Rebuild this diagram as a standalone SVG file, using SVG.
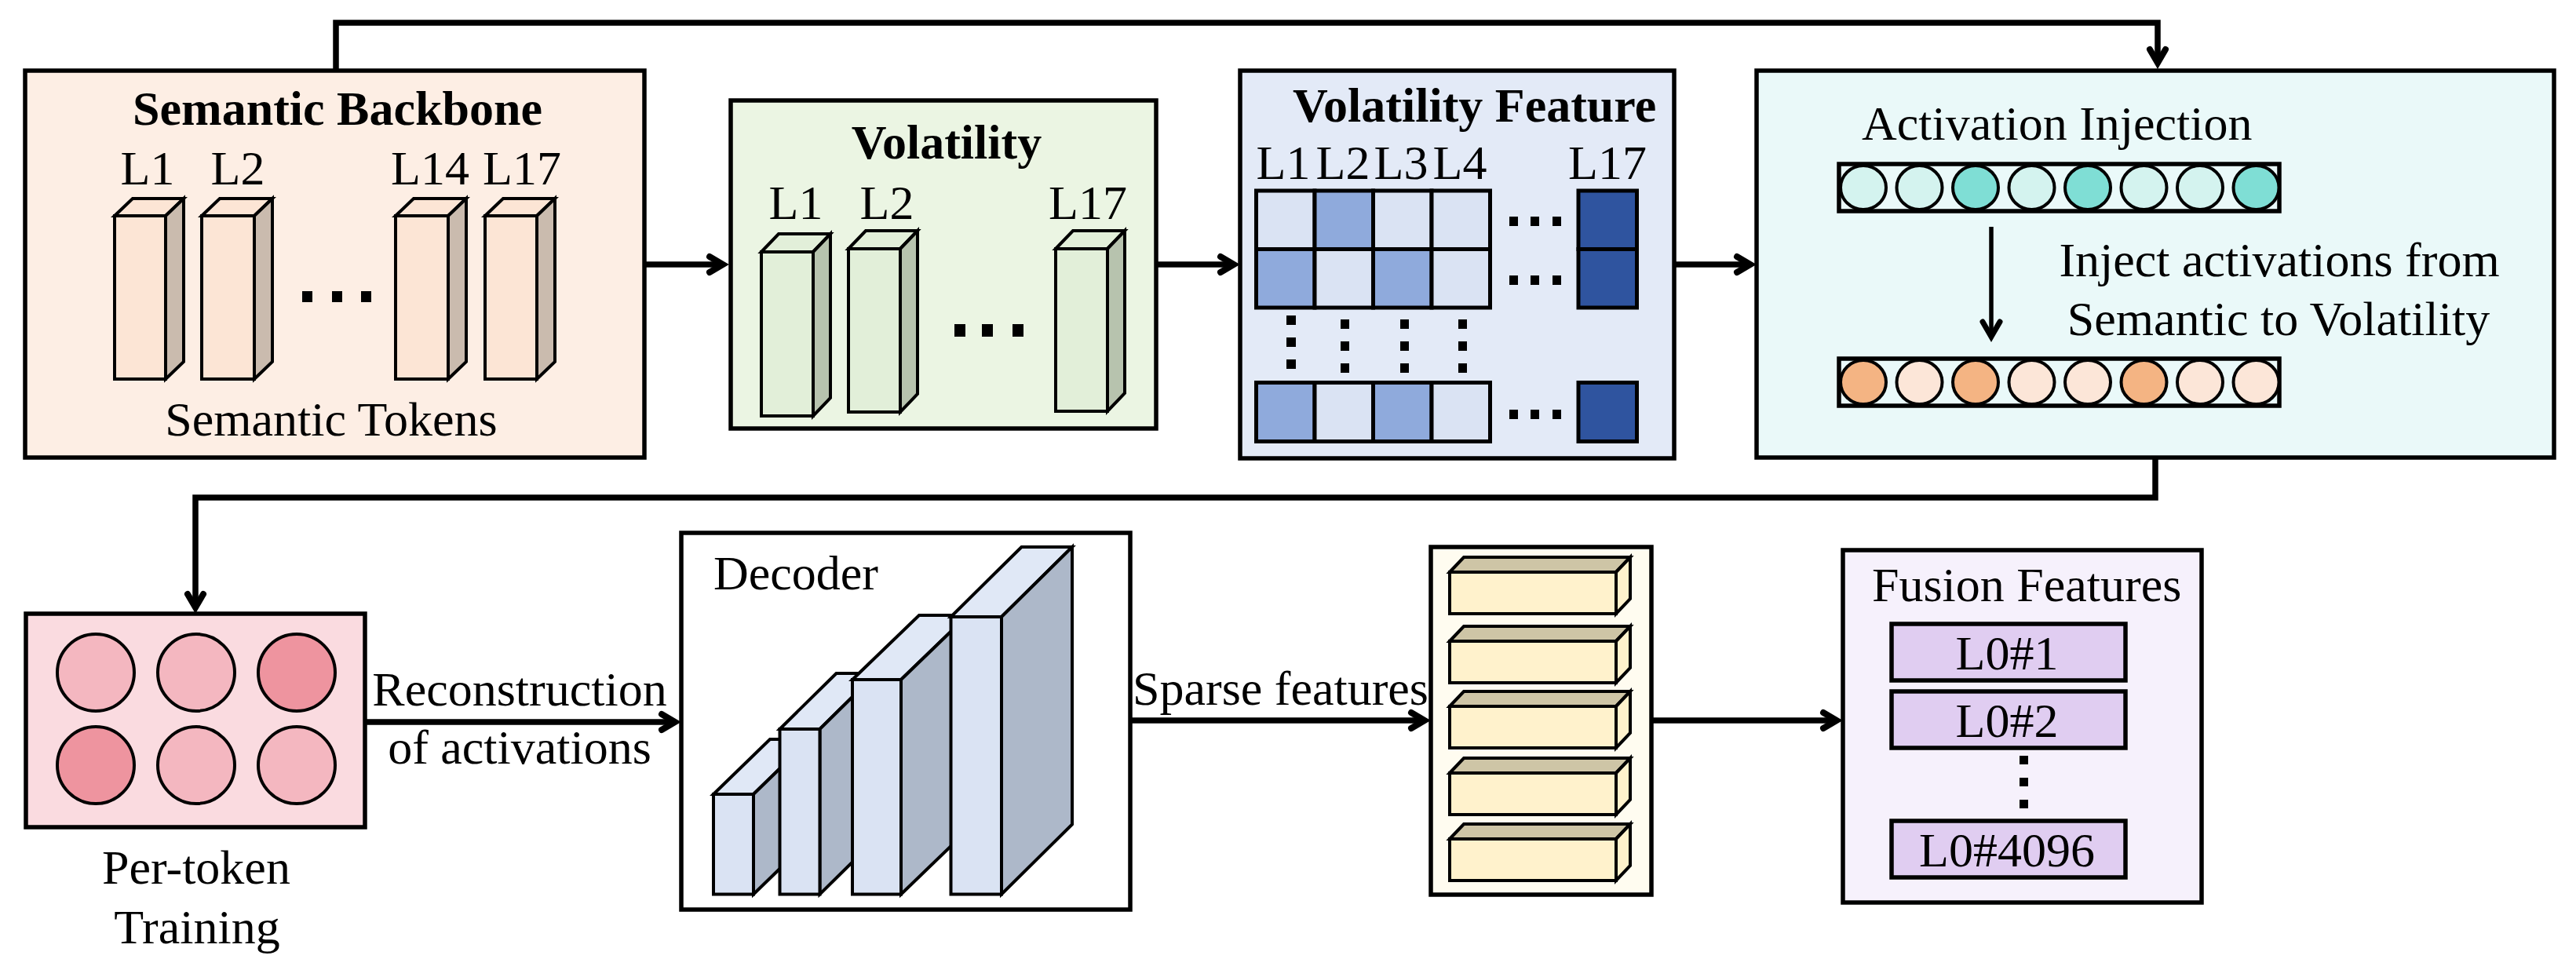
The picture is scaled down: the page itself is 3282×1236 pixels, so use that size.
<svg xmlns="http://www.w3.org/2000/svg" width="3282" height="1236" viewBox="0 0 3282 1236">
<style>
.t{font-family:"Liberation Serif","Times New Roman",serif;font-size:62px;fill:#000}
.b{font-weight:bold}
.m{text-anchor:middle}
.box{stroke:#000;stroke-width:5.5}
.cb{stroke:#000;stroke-width:4;stroke-linejoin:miter}
.cell{stroke:#000;stroke-width:5}
.ell{stroke:#000;stroke-width:4}
.con{fill:none;stroke:#000;stroke-width:7.5;stroke-linejoin:miter}
</style>
<defs>
<marker id="ah" markerUnits="userSpaceOnUse" markerWidth="60" markerHeight="60" viewBox="-30 -30 60 60" refX="0" refY="0" orient="auto" overflow="visible">
<path d="M-15,-10 L2,0 L-15,10" fill="none" stroke="#000" stroke-width="8" stroke-linecap="round" stroke-linejoin="miter"/>
</marker>
<marker id="ahs" markerUnits="userSpaceOnUse" markerWidth="60" markerHeight="60" viewBox="-30 -30 60 60" refX="0" refY="0" orient="auto" overflow="visible">
<path d="M-19,-11 L0,0 L-19,11" fill="none" stroke="#000" stroke-width="7" stroke-linecap="round" stroke-linejoin="miter"/>
</marker>
</defs>
<rect width="3282" height="1236" fill="#fff"/>

<g id="semantic-backbone">
<rect class="box" x="32" y="90" width="789" height="493" fill="#fdeee4"/>
<text class="t b m" x="430" y="159">Semantic Backbone</text>
<g class="t m" font-size="60">
<text x="188" y="235">L1</text><text x="303" y="235">L2</text><text x="548" y="235">L14</text><text x="665" y="235">L17</text>
</g>
<g class="cb">
<polygon points="146,275 169,253 234,253 211,275" fill="#fce5d5"/><polygon points="211,275 234,253 234,461 211,483" fill="#cabbae"/><rect x="146" y="275" width="65" height="208" fill="#fce5d5"/>
<polygon points="257,275 280,253 347,253 324,275" fill="#fce5d5"/><polygon points="324,275 347,253 347,461 324,483" fill="#cabbae"/><rect x="257" y="275" width="67" height="208" fill="#fce5d5"/>
<polygon points="504,275 527,253 594,253 571,275" fill="#fce5d5"/><polygon points="571,275 594,253 594,461 571,483" fill="#cabbae"/><rect x="504" y="275" width="67" height="208" fill="#fce5d5"/>
<polygon points="618,275 641,253 707,253 684,275" fill="#fce5d5"/><polygon points="684,275 707,253 707,461 684,483" fill="#cabbae"/><rect x="618" y="275" width="66" height="208" fill="#fce5d5"/>
</g>
<g fill="#000"><rect x="385" y="371" width="13" height="14"/><rect x="423" y="371" width="13" height="14"/><rect x="460" y="371" width="13" height="14"/></g>
<text class="t m" x="422" y="555">Semantic Tokens</text>
</g>

<g id="volatility">
<rect class="box" x="931" y="128" width="542" height="418" fill="#ebf5e3"/>
<text class="t b m" x="1206" y="202">Volatility</text>
<g class="t m" font-size="60">
<text x="1014" y="279">L1</text><text x="1130" y="279">L2</text><text x="1386" y="279">L17</text>
</g>
<g class="cb">
<polygon points="970,321 992,298 1058,298 1036,321" fill="#e2efd9"/><polygon points="1036,321 1058,298 1058,507 1036,530" fill="#b7c3ae"/><rect x="970" y="321" width="66" height="209" fill="#e2efd9"/>
<polygon points="1081,317 1103,294 1169,294 1147,317" fill="#e2efd9"/><polygon points="1147,317 1169,294 1169,502 1147,525" fill="#b7c3ae"/><rect x="1081" y="317" width="66" height="208" fill="#e2efd9"/>
<polygon points="1345,317 1367,294 1433,294 1411,317" fill="#e2efd9"/><polygon points="1411,317 1433,294 1433,501 1411,524" fill="#b7c3ae"/><rect x="1345" y="317" width="66" height="207" fill="#e2efd9"/>
</g>
<g fill="#000"><rect x="1216" y="413" width="14" height="16"/><rect x="1251" y="413" width="14" height="16"/><rect x="1290" y="413" width="14" height="16"/></g>
</g>

<g id="volatility-feature">
<rect class="box" x="1580" y="90" width="553" height="494" fill="#e3eaf7"/>
<text class="t b" x="1647" y="155">Volatility Feature</text>
<g class="t m" font-size="47">
<text x="1635" y="228">L1</text><text x="1711" y="228">L2</text><text x="1785" y="228">L3</text><text x="1860" y="228">L4</text><text x="2048" y="228">L17</text>
</g>
<g class="cell">
<rect x="1600.5" y="243" width="74.5" height="74.5" fill="#dae3f3"/>
<rect x="1675" y="243" width="74.5" height="74.5" fill="#8faadc"/>
<rect x="1749.5" y="243" width="74.5" height="74.5" fill="#dae3f3"/>
<rect x="1824" y="243" width="74.5" height="74.5" fill="#dae3f3"/>
<rect x="1600.5" y="317.5" width="74.5" height="74.5" fill="#8faadc"/>
<rect x="1675" y="317.5" width="74.5" height="74.5" fill="#dae3f3"/>
<rect x="1749.5" y="317.5" width="74.5" height="74.5" fill="#8faadc"/>
<rect x="1824" y="317.5" width="74.5" height="74.5" fill="#dae3f3"/>
<rect x="2011" y="243" width="74.5" height="74.5" fill="#2f549f"/>
<rect x="2011" y="317.5" width="74.5" height="74.5" fill="#2f549f"/>
<rect x="1600.5" y="487.5" width="74.5" height="75" fill="#8faadc"/>
<rect x="1675" y="487.5" width="74.5" height="75" fill="#dae3f3"/>
<rect x="1749.5" y="487.5" width="74.5" height="75" fill="#8faadc"/>
<rect x="1824" y="487.5" width="74.5" height="75" fill="#dae3f3"/>
<rect x="2011" y="487.5" width="74.5" height="75" fill="#2f549f"/>
</g>
<g fill="#000">
<rect x="1923" y="276" width="11" height="12"/><rect x="1950" y="276" width="11" height="12"/><rect x="1978" y="276" width="11" height="12"/>
<rect x="1923" y="351" width="11" height="12"/><rect x="1950" y="351" width="11" height="12"/><rect x="1978" y="351" width="11" height="12"/>
<rect x="1923" y="522" width="11" height="12"/><rect x="1950" y="522" width="11" height="12"/><rect x="1978" y="522" width="11" height="12"/>
<rect x="1639" y="402" width="12" height="12"/><rect x="1639" y="430" width="12" height="12"/><rect x="1639" y="458" width="12" height="12"/>
<rect x="1708" y="407" width="11" height="12"/><rect x="1708" y="435" width="11" height="12"/><rect x="1708" y="463" width="11" height="12"/>
<rect x="1784" y="407" width="11" height="12"/><rect x="1784" y="435" width="11" height="12"/><rect x="1784" y="463" width="11" height="12"/>
<rect x="1858" y="407" width="11" height="12"/><rect x="1858" y="435" width="11" height="12"/><rect x="1858" y="463" width="11" height="12"/>
</g>
</g>

<g id="activation-injection">
<rect class="box" x="2238" y="90" width="1016" height="493" fill="#eaf9f9"/>
<text class="t" x="2372" y="178">Activation Injection</text>
<rect class="box" x="2343" y="209" width="561" height="60" fill="#eaf9f9"/>
<g class="ell">
<ellipse cx="2374" cy="239" rx="29" ry="28" fill="#d4f3ef"/>
<ellipse cx="2445.5" cy="239" rx="29" ry="28" fill="#d4f3ef"/>
<ellipse cx="2517" cy="239" rx="29" ry="28" fill="#7fded5"/>
<ellipse cx="2588.5" cy="239" rx="29" ry="28" fill="#d4f3ef"/>
<ellipse cx="2660" cy="239" rx="29" ry="28" fill="#7fded5"/>
<ellipse cx="2731.5" cy="239" rx="29" ry="28" fill="#d4f3ef"/>
<ellipse cx="2803" cy="239" rx="29" ry="28" fill="#d4f3ef"/>
<ellipse cx="2874.5" cy="239" rx="29" ry="28" fill="#7fded5"/>
</g>
<path d="M2537,289 V429" fill="none" stroke="#000" stroke-width="5.5" marker-end="url(#ahs)"/>
<text class="t m" x="2904" y="352">Inject activations from</text>
<text class="t m" x="2903" y="427">Semantic to Volatility</text>
<rect class="box" x="2343" y="457" width="561" height="60" fill="#eaf9f9"/>
<g class="ell">
<ellipse cx="2374" cy="487" rx="29" ry="28" fill="#f4b483"/>
<ellipse cx="2445.5" cy="487" rx="29" ry="28" fill="#fce6d8"/>
<ellipse cx="2517" cy="487" rx="29" ry="28" fill="#f4b483"/>
<ellipse cx="2588.5" cy="487" rx="29" ry="28" fill="#fce6d8"/>
<ellipse cx="2660" cy="487" rx="29" ry="28" fill="#fce6d8"/>
<ellipse cx="2731.5" cy="487" rx="29" ry="28" fill="#f4b483"/>
<ellipse cx="2803" cy="487" rx="29" ry="28" fill="#fce6d8"/>
<ellipse cx="2874.5" cy="487" rx="29" ry="28" fill="#fce6d8"/>
</g>
</g>

<g id="per-token-training">
<rect class="box" x="33" y="782" width="432" height="272" fill="#fadbe0"/>
<g class="ell">
<circle cx="122" cy="857" r="49" fill="#f4b7c0"/>
<circle cx="250" cy="857" r="49" fill="#f4b7c0"/>
<circle cx="378" cy="857" r="49" fill="#ee949f"/>
<circle cx="122" cy="975" r="49" fill="#ee949f"/>
<circle cx="250" cy="975" r="49" fill="#f4b7c0"/>
<circle cx="378" cy="975" r="49" fill="#f4b7c0"/>
</g>
<text class="t m" x="250" y="1126">Per-token</text>
<text class="t m" x="251" y="1202">Training</text>
</g>

<g id="decoder">
<rect class="box" x="868" y="679" width="572" height="480" fill="#fff"/>
<text class="t" x="909" y="751">Decoder</text>
<g class="cb">
<polygon points="909,1012 981,942 1032,942 960,1012" fill="#e0e8f6"/><polygon points="960,1012 1032,942 1032,1069.5 960,1139.5" fill="#adb8c9"/><rect x="909" y="1012" width="51" height="127.5" fill="#dae3f3"/>
<polygon points="993.5,929 1065.5,858 1116.5,858 1044.5,929" fill="#e0e8f6"/><polygon points="1044.5,929 1116.5,858 1116.5,1068.5 1044.5,1139.5" fill="#adb8c9"/><rect x="993.5" y="929" width="51" height="210.5" fill="#dae3f3"/>
<polygon points="1086,866 1171,784 1233,784 1148,866" fill="#e0e8f6"/><polygon points="1148,866 1233,784 1233,1057.5 1148,1139.5" fill="#adb8c9"/><rect x="1086" y="866" width="62" height="273.5" fill="#dae3f3"/>
<polygon points="1211.5,786 1301.5,697 1366,697 1276,786" fill="#e0e8f6"/><polygon points="1276,786 1366,697 1366,1050.5 1276,1139.5" fill="#adb8c9"/><rect x="1211.5" y="786" width="64.5" height="353.5" fill="#dae3f3"/>
</g>
</g>

<g id="sparse-features">
<rect class="box" x="1823" y="697" width="281" height="443" fill="#fffcf0"/>
<g class="cb">
<polygon points="1847,729 1865,710 2077,710 2059,729" fill="#cec5a6"/><polygon points="2059,729 2077,710 2077,763 2059,782" fill="#fff2cc"/><rect x="1847" y="729" width="212" height="53" fill="#fff2cc"/>
<polygon points="1847,817 1865,798 2077,798 2059,817" fill="#cec5a6"/><polygon points="2059,817 2077,798 2077,851 2059,870" fill="#fff2cc"/><rect x="1847" y="817" width="212" height="53" fill="#fff2cc"/>
<polygon points="1847,900 1865,881 2077,881 2059,900" fill="#cec5a6"/><polygon points="2059,900 2077,881 2077,934 2059,953" fill="#fff2cc"/><rect x="1847" y="900" width="212" height="53" fill="#fff2cc"/>
<polygon points="1847,985 1865,966 2077,966 2059,985" fill="#cec5a6"/><polygon points="2059,985 2077,966 2077,1019 2059,1038" fill="#fff2cc"/><rect x="1847" y="985" width="212" height="53" fill="#fff2cc"/>
<polygon points="1847,1069 1865,1050 2077,1050 2059,1069" fill="#cec5a6"/><polygon points="2059,1069 2077,1050 2077,1103 2059,1122" fill="#fff2cc"/><rect x="1847" y="1069" width="212" height="53" fill="#fff2cc"/>
</g>
</g>

<g id="fusion-features">
<rect class="box" x="2348" y="701" width="457" height="449" fill="#f6f1fc"/>
<text class="t" x="2385" y="766">Fusion Features</text>
<rect class="box" x="2410" y="795" width="298" height="72" fill="#e0cdf1"/>
<text class="t m" x="2557" y="853">L0#1</text>
<rect class="box" x="2410" y="881" width="298" height="72" fill="#e0cdf1"/>
<text class="t m" x="2557" y="939">L0#2</text>
<g fill="#000"><rect x="2573" y="963" width="11" height="11"/><rect x="2573" y="991" width="11" height="11"/><rect x="2573" y="1019" width="11" height="11"/></g>
<rect class="box" x="2410" y="1046" width="298" height="72" fill="#e0cdf1"/>
<text class="t m" x="2557" y="1104">L0#4096</text>
</g>

<g id="connectors">
<path class="con" d="M821,337 H919" marker-end="url(#ah)"/>
<path class="con" d="M1473,337 H1570" marker-end="url(#ah)"/>
<path class="con" d="M2133,337 H2228" marker-end="url(#ah)"/>
<path class="con" d="M428,90 V29 H2749 V78" marker-end="url(#ah)"/>
<path class="con" d="M2746,583 V634 H249 V772" marker-end="url(#ah)"/>
<path class="con" d="M465,920 H858" marker-end="url(#ah)"/>
<path class="con" d="M1440,918 H1813" marker-end="url(#ah)"/>
<path class="con" d="M2104,918 H2338" marker-end="url(#ah)"/>
<text class="t m" x="662" y="899">Reconstruction</text>
<text class="t m" x="662" y="973">of activations</text>
<text class="t" x="1443" y="898">Sparse features</text>
</g>
</svg>
